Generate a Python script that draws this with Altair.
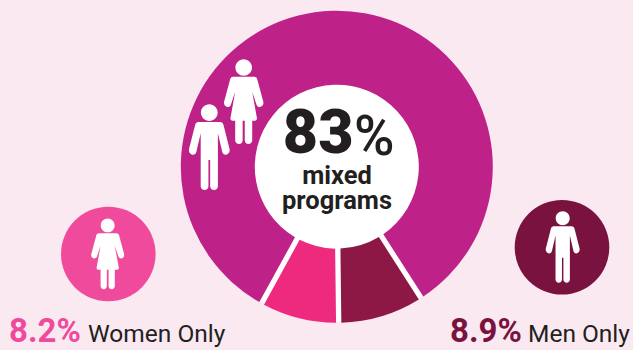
import math
import altair as alt
import pandas as pd

# Share of programs by enrolment type
programs = ["Men Only", "Women Only", "Mixed"]
shares = [8.9, 8.2, 83.0]
slice_colors = ["#8E1845", "#EE2A7F", "#BE2288"]

W, H = 633, 350
BG = "#FBE9F2"
CX, CY = 336.8, 166.7
R_OUT, R_IN = 156, 82
BADGE_R = 47.3
START = math.radians(147.3)

# Person glyphs: unit box, top of head at -1, soles at +1
HEAD = "M0,-0.995 C0.108,-0.995 0.195,-0.908 0.195,-0.8 C0.195,-0.692 0.108,-0.605 0,-0.605 C-0.108,-0.605 -0.195,-0.692 -0.195,-0.8 C-0.195,-0.908 -0.108,-0.995 0,-0.995 Z "
MAN = HEAD + (
    "M-0.25,-0.58 L0.25,-0.58 C0.29,-0.58 0.32,-0.55 0.33,-0.51 L0.47,0.04 "
    "C0.49,0.12 0.43,0.18 0.38,0.18 C0.34,0.18 0.31,0.15 0.30,0.11 L0.20,-0.32 "
    "L0.20,0.91 C0.20,0.96 0.16,1 0.11,1 C0.06,1 0.02,0.96 0.02,0.91 L0.02,0.30 L-0.02,0.30 "
    "L-0.02,0.91 C-0.02,0.96 -0.06,1 -0.11,1 C-0.16,1 -0.20,0.96 -0.20,0.91 L-0.20,-0.32 "
    "L-0.30,0.11 C-0.31,0.15 -0.34,0.18 -0.38,0.18 C-0.43,0.18 -0.49,0.12 -0.47,0.04 "
    "L-0.33,-0.51 C-0.32,-0.55 -0.29,-0.58 -0.25,-0.58 Z"
)
WOMAN = HEAD + (
    "M-0.25,-0.58 L0.25,-0.58 C0.29,-0.58 0.31,-0.55 0.32,-0.52 L0.46,0.0 "
    "C0.48,0.07 0.43,0.13 0.38,0.13 C0.34,0.13 0.31,0.11 0.30,0.07 L0.20,-0.23 "
    "L0.31,0.38 C0.32,0.42 0.30,0.45 0.26,0.45 L0.20,0.45 "
    "L0.20,0.91 C0.20,0.96 0.16,1 0.11,1 C0.06,1 0.025,0.96 0.025,0.91 L0.025,0.45 L-0.025,0.45 "
    "L-0.025,0.91 C-0.025,0.96 -0.06,1 -0.11,1 C-0.16,1 -0.20,0.96 -0.20,0.91 L-0.20,0.45 "
    "L-0.26,0.45 C-0.30,0.45 -0.32,0.42 -0.31,0.38 L-0.20,-0.23 L-0.30,0.07 "
    "C-0.31,0.11 -0.34,0.13 -0.38,0.13 C-0.43,0.13 -0.48,0.07 -0.46,0.0 "
    "L-0.32,-0.52 C-0.31,-0.55 -0.29,-0.58 -0.25,-0.58 Z"
)

x_scale = alt.Scale(domain=[0, W], range=[0, W])
y_scale = alt.Scale(domain=[0, H], range=[0, H])
X = lambda f: alt.X(f, type="quantitative", scale=x_scale, axis=None)
Y = lambda f: alt.Y(f, type="quantitative", scale=y_scale, axis=None)

slices = pd.DataFrame({"program": programs, "share": shares, "idx": [0, 1, 2]})

# White backing shows through the gaps between slices and fills the hole
backing = alt.Chart(pd.DataFrame({"x": [CX], "y": [CY]})).mark_point(
    shape="circle", filled=True, opacity=1, color="white", size=(2 * 155) ** 2
).encode(x=X("x"), y=Y("y"))

donut = alt.Chart(slices).mark_arc(radius=R_OUT, radius2=R_IN, padAngle=0.03).encode(
    theta=alt.Theta("share:Q", stack=True,
                    scale=alt.Scale(range=[START, START + 2 * math.pi])),
    order=alt.Order("idx:O"),
    color=alt.Color("program:N", legend=None,
                    scale=alt.Scale(domain=programs, range=slice_colors)),
    x=alt.value(CX), y=alt.value(CY),
)

badges = alt.Chart(pd.DataFrame({
    "x": [108.3, 562.0], "y": [254.0, 247.3], "c": ["#EF4A9B", "#7A1240"],
})).mark_point(shape="circle", filled=True, opacity=1, size=(2 * BADGE_R) ** 2).encode(
    x=X("x"), y=Y("y"), color=alt.Color("c:N", scale=None),
)

def person(path, x, y, height):
    return alt.Chart(pd.DataFrame({"x": [x], "y": [y]})).mark_point(
        shape=path, filled=True, opacity=1, color="white", strokeWidth=0, size=height ** 2
    ).encode(x=X("x"), y=Y("y"))

def label(text, x, y, size, color, align="left", weight="normal", font="Roboto", stroke=0):
    return alt.Chart(pd.DataFrame({"x": [x], "y": [y], "t": [text]})).mark_text(
        align=align, baseline="alphabetic", fontSize=size, fontWeight=weight, font=font,
        color=color, stroke=color, strokeWidth=stroke,
    ).encode(x=X("x"), y=Y("y"), text="t:N")

INK = "#231F20"
chart = alt.layer(
    backing, donut, badges,
    person(MAN, 209.3, 147, 86), person(WOMAN, 243.7, 101.5, 85),
    person(WOMAN, 107.7, 253.8, 71), person(MAN, 562.7, 247, 71.7),
    label(f"{shares[2]:.0f}", 353.5, 153, 61, INK, "right", 900),
    label("%", 354, 154.5, 55, INK, "left", 500),
    label("mixed", 337, 184, 25.5, INK, "center", "bold"),
    label("programs", 337, 209, 25.5, INK, "center", "bold"),
    label(f"{shares[1]}%", 9, 341.7, 33, "#EF4A9B", "left", "bold"),
    label("Women Only", 88, 341.7, 24.5, INK),
    label(f"{shares[0]}%", 450, 341.7, 33, "#7A1240", "left", "bold"),
    label("Men Only", 528, 341.7, 24.5, INK),
).properties(
    width=W, height=H, background=BG, padding=0, autosize=alt.AutoSizeParams(type="none")
).configure_view(strokeWidth=0)

chart.save("out.html", embed_options={"renderer": "svg", "actions": False})
